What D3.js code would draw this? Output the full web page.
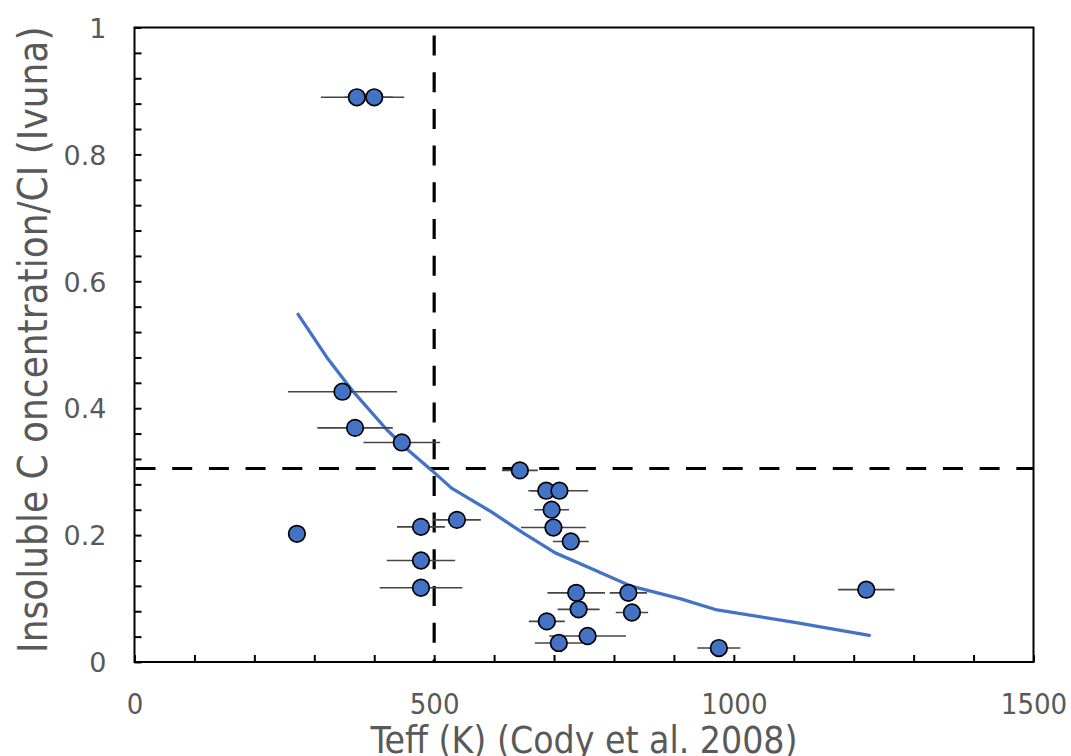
<!DOCTYPE html>
<html>
<head>
<meta charset="utf-8">
<script src="https://cdn.jsdelivr.net/npm/d3@7"></script>
<style>
  html, body { margin: 0; padding: 0; background: #fff; }
  svg { display: block; }
</style>
</head>
<body>
<script>
// ---- data ----
const teff    = [371, 400, 347, 368, 446, 271, 478, 538, 478, 478, 643, 687, 709, 696, 699, 728, 737, 824, 741, 830, 688, 756, 708, 975, 1221];
const conc    = [0.890, 0.890, 0.426, 0.369, 0.346, 0.202, 0.213, 0.224, 0.160, 0.117, 0.302, 0.270, 0.270, 0.240, 0.212, 0.190, 0.109, 0.109, 0.083, 0.078, 0.064, 0.041, 0.030, 0.022, 0.114];
const teffErr = [60, 50, 91, 63, 64, 0, 40, 40, 57, 69, 30, 30, 48, 29, 54, 30, 48, 31, 35, 27, 30, 64, 40, 36, 47];

const modelTeff = [273, 321, 365, 421, 454, 496, 529, 593, 649, 702, 760, 827, 910, 972, 1099, 1226];
const modelConc = [0.548, 0.480, 0.426, 0.366, 0.336, 0.302, 0.274, 0.238, 0.203, 0.172, 0.148, 0.120, 0.100, 0.082, 0.063, 0.042];

const refTeff = 500;
const refConc = 0.305;

const xTickLabels = [0, 500, 1000, 1500];
const yTickLabels = [0, 0.2, 0.4, 0.6, 0.8, 1];
const xMinorTicks = d3.range(0, 1501, 100);
const yMinorTicks = d3.range(0, 26).map(i => +(i * 0.04).toFixed(2));

const xTitle = "Teff (K) (Cody et al. 2008)";
const yTitle = "Insoluble C oncentration/CI (Ivuna)";

// ---- layout ----
const W = 1071, H = 756;
const L = 134.5, R = 1033.5, T = 27.5, B = 662;
const textColor = "#595959";
const blue = "#4472C4";

const svg = d3.select("body").append("svg").attr("width", W).attr("height", H);

const x = d3.scaleLinear().domain([0, 1500]).range([L, R]);
const y = d3.scaleLinear().domain([0, 1]).range([B, T]);

// dashed reference lines
svg.append("line")
  .attr("x1", x(refTeff)).attr("x2", x(refTeff))
  .attr("y1", y(1)).attr("y2", y(0))
  .attr("stroke", "#000").attr("stroke-width", 3.2)
  .attr("stroke-dasharray", "20,16.7").attr("stroke-dashoffset", 28.7);
svg.append("line")
  .attr("x1", x(0)).attr("x2", x(1500))
  .attr("y1", y(refConc)).attr("y2", y(refConc))
  .attr("stroke", "#000").attr("stroke-width", 3.2)
  .attr("stroke-dasharray", "20,16.7").attr("stroke-dashoffset", -1);

// model curve
const pts = modelTeff.map((t, i) => [t, modelConc[i]]);
svg.append("path")
  .datum(pts)
  .attr("fill", "none")
  .attr("stroke", blue)
  .attr("stroke-width", 3.3)
  .attr("stroke-linecap", "round")
  .attr("stroke-linejoin", "round")
  .attr("d", d3.line().x(d => x(d[0])).y(d => y(d[1])));

// data
const data = teff.map((t, i) => ({t, c: conc[i], e: teffErr[i]}));

svg.append("g").selectAll("line")
  .data(data.filter(d => d.e > 0))
  .join("line")
  .attr("x1", d => x(d.t - d.e)).attr("x2", d => x(d.t + d.e))
  .attr("y1", d => y(d.c)).attr("y2", d => y(d.c))
  .attr("stroke", "#454545").attr("stroke-width", 1.6);

svg.append("g").selectAll("circle")
  .data(data)
  .join("circle")
  .attr("cx", d => x(d.t)).attr("cy", d => y(d.c))
  .attr("r", 8.3)
  .attr("fill", blue)
  .attr("stroke", "#000").attr("stroke-width", 1.7);

// axes: minor ticks inside
const gx = svg.append("g").attr("transform", `translate(0,${B})`)
  .call(d3.axisBottom(x).tickValues(xMinorTicks).tickSize(-7).tickFormat(""));
gx.select(".domain").remove();
gx.selectAll(".tick line").attr("stroke", "#000").attr("stroke-width", 2);

const gy = svg.append("g").attr("transform", `translate(${L},0)`)
  .call(d3.axisLeft(y).tickValues(yMinorTicks).tickSize(-7).tickFormat(""));
gy.select(".domain").remove();
gy.selectAll(".tick line").attr("stroke", "#000").attr("stroke-width", 2);

// plot border
svg.append("rect")
  .attr("x", L).attr("y", T).attr("width", R - L).attr("height", B - T)
  .attr("fill", "none").attr("stroke", "#000").attr("stroke-width", 2);

// tick labels
const gxl = svg.append("g").attr("transform", `translate(0,${B})`)
  .call(d3.axisBottom(x).tickValues(xTickLabels).tickSize(0).tickPadding(0).tickFormat(d3.format("d")));
gxl.select(".domain").remove();
gxl.selectAll("text")
  .attr("dy", null).attr("y", 52)
  .attr("fill", textColor)
  .style("font-family", "'Liberation Sans Narrow', 'DejaVu Sans Condensed', sans-serif")
  .style("font-size", "29px");

const gyl = svg.append("g").attr("transform", `translate(${L},0)`)
  .call(d3.axisLeft(y).tickValues(yTickLabels).tickSize(0).tickPadding(0).tickFormat(d => String(d)));
gyl.select(".domain").remove();
gyl.selectAll("text")
  .attr("x", -28).attr("dy", "0.36em")
  .attr("fill", textColor)
  .style("font-family", "'DejaVu Sans', sans-serif")
  .style("font-size", "27px");

// axis titles
svg.append("text")
  .attr("x", (L + R) / 2).attr("y", 753)
  .attr("text-anchor", "middle")
  .attr("fill", textColor)
  .style("font-family", "'Liberation Sans Narrow', 'DejaVu Sans Condensed', sans-serif")
  .style("font-size", "37px")
  .text(xTitle);

svg.append("text")
  .attr("transform", `translate(47,${(T + B) / 2 - 5}) rotate(-90)`)
  .attr("text-anchor", "middle")
  .attr("fill", textColor)
  .style("font-family", "'Liberation Sans Narrow', 'DejaVu Sans Condensed', sans-serif")
  .style("font-size", "40px")
  .text(yTitle);
</script>
</body>
</html>
